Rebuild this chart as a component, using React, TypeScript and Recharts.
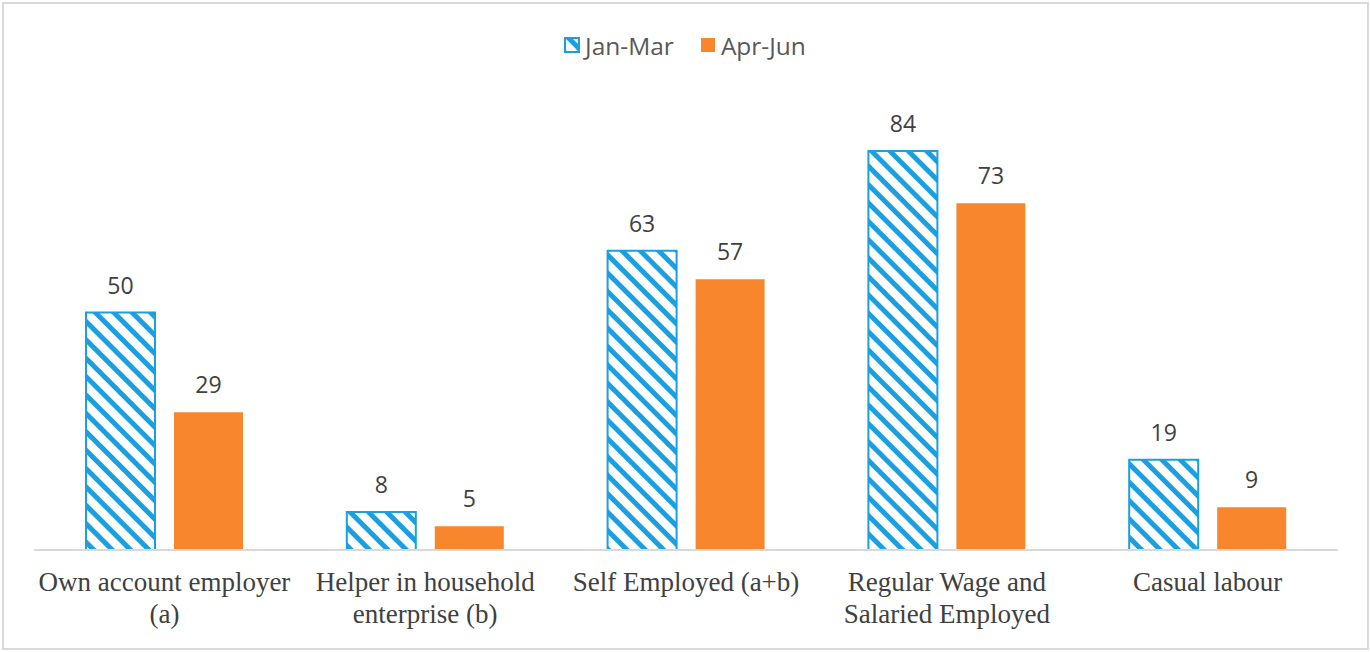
import React from "react";
import { BarChart, Bar, XAxis, YAxis, LabelList } from "recharts";

const categories = [
  ["Own account employer", "(a)"],
  ["Helper in household", "enterprise (b)"],
  ["Self Employed (a+b)"],
  ["Regular Wage and", "Salaried Employed"],
  ["Casual labour"],
];
const janMar = [50, 8, 63, 84, 19];
const aprJun = [29, 5, 57, 73, 9];

const BLUE = "#1A9FE0";
const ORANGE = "#F8862C";

const data = categories.map((c, i) => ({
  name: c.join("\n"),
  janMar: janMar[i],
  aprJun: aprJun[i],
}));

function CategoryTick(props: any) {
  const { x, y, payload } = props;
  const lines = String(payload.value).split("\n");
  return (
    <g transform={`translate(${x},${y})`}>
      {lines.map((l, i) => (
        <text
          key={i}
          x={0}
          y={33 + i * 32}
          textAnchor="middle"
          fill="#404040"
          fontFamily="'Liberation Serif', serif"
          fontSize={27}
        >
          {l}
        </text>
      ))}
    </g>
  );
}

function LegendBox() {
  const item = (label: string, fill: string) => (
    <span style={{ display: "inline-flex", alignItems: "center", margin: "0 13px" }}>
      <svg width={16} height={16} style={{ marginRight: 5 }}>
        <rect
          x={1}
          y={1}
          width={14}
          height={14}
          fill={fill}
          stroke={fill === ORANGE ? "none" : BLUE}
          strokeWidth={2}
        />
      </svg>
      <span>{label}</span>
    </span>
  );
  return (
    <div
      style={{
        position: "absolute",
        left: 0,
        top: 27,
        width: 1370,
        textAlign: "center",
        fontFamily: "'Open Sans', sans-serif",
        fontSize: 24.5,
        color: "#595959",
      }}
    >
      {item("Jan-Mar", "url(#hatch)")}
      {item("Apr-Jun", ORANGE)}
    </div>
  );
}

export default function App() {
  return (
    <div
      style={{
        position: "fixed",
        left: 0,
        top: 0,
        width: 1370,
        height: 652,
        background: "#fff",
      }}
    >
      <div
        style={{
          position: "absolute",
          left: 2,
          top: 2,
          width: 1363,
          height: 644,
          border: "2px solid #D9D9D9",
        }}
      />
      <svg width={0} height={0} style={{ position: "absolute" }}>
        <defs>
          <pattern
            id="hatch"
            width={13}
            height={13}
            patternUnits="userSpaceOnUse"
            patternTransform="rotate(-45)"
          >
            <rect width={13} height={13} fill="#fff" />
            <rect x={0} y={0} width={5} height={13} fill={BLUE} />
          </pattern>
        </defs>
      </svg>
      <BarChart
        width={1370}
        height={652}
        data={data}
        margin={{ top: 75, right: 32, bottom: 72, left: 34 }}
        barGap={19}
        barSize={69}
        style={{ position: "absolute", left: 0, top: 0 }}
      >
        <XAxis
          dataKey="name"
          axisLine={{ stroke: "#D9D9D9", strokeWidth: 2 }}
          tickLine={false}
          tick={<CategoryTick />}
          interval={0}
        />
        <YAxis hide domain={[0, 100]} />
        <Bar
          dataKey="janMar"
          fill="url(#hatch)"
          stroke={BLUE}
          strokeWidth={2}
          isAnimationActive={false}
        >
          <LabelList
            dataKey="janMar"
            position="top"
            offset={19}
            fill="#404040"
            fontFamily="'Open Sans', sans-serif"
            fontSize={23}
          />
        </Bar>
        <Bar dataKey="aprJun" fill={ORANGE} isAnimationActive={false}>
          <LabelList
            dataKey="aprJun"
            position="top"
            offset={19}
            fill="#404040"
            fontFamily="'Open Sans', sans-serif"
            fontSize={23}
          />
        </Bar>
      </BarChart>
      <LegendBox />
    </div>
  );
}
